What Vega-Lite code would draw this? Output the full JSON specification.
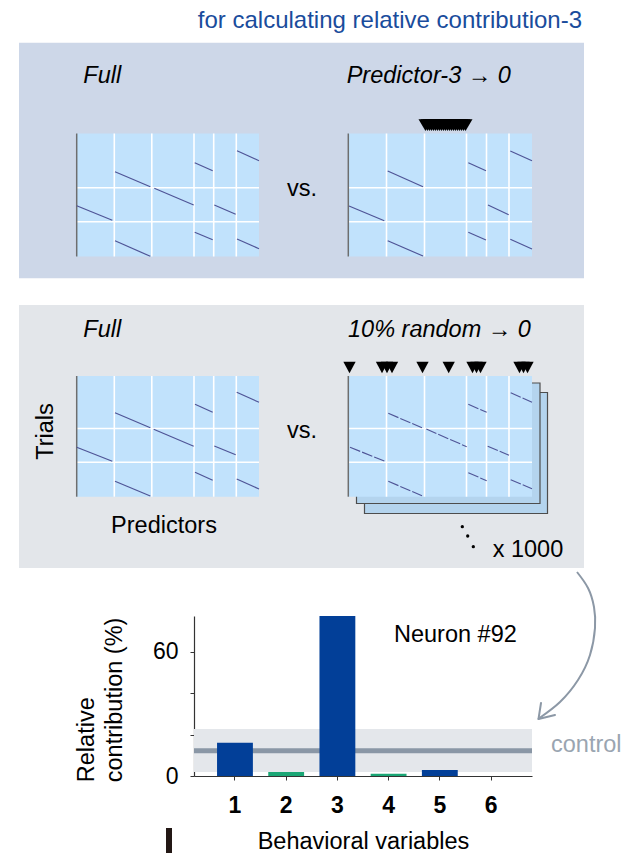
{
  "$schema": "https://vega.github.io/schema/vega-lite/v6.json",
  "width": 338,
  "height": 160,
  "autosize": {"type": "none"},
  "padding": {"left": 194, "top": 616, "right": 93, "bottom": 77},
  "background": "white",
  "config": {"view": {"stroke": null}, "font": "Liberation Sans"},
  "datasets": {
    "panels": [
      {"panel": "predictor", "x0": 19, "x1": 584, "y0": 42.7, "y1": 278.3},
      {"panel": "random", "x0": 19, "x1": 584, "y0": 305, "y1": 568}
    ],
    "sheets": [
      {"copy": 3, "x0": 364.5, "x1": 547.5, "y0": 392.5, "y1": 513.5},
      {"copy": 2, "x0": 356.5, "x1": 540, "y0": 383, "y1": 503.5}
    ],
    "matrices": [
      {"m": "A-full", "x0": 76.7, "x1": 259, "y0": 133.5, "y1": 256.5},
      {"m": "A-drop3", "x0": 348.3, "x1": 532, "y0": 133.5, "y1": 256.5},
      {"m": "B-full", "x0": 76.7, "x1": 259, "y0": 376, "y1": 496.7},
      {"m": "B-random", "x0": 348.3, "x1": 532, "y0": 376, "y1": 496.7}
    ],
    "grid": [
      {"x": 114.3, "y": 133.5, "x2": 114.3, "y2": 256.5},
      {"x": 151.8, "y": 133.5, "x2": 151.8, "y2": 256.5},
      {"x": 194, "y": 133.5, "x2": 194, "y2": 256.5},
      {"x": 213.7, "y": 133.5, "x2": 213.7, "y2": 256.5},
      {"x": 236.3, "y": 133.5, "x2": 236.3, "y2": 256.5},
      {"x": 76.7, "y": 187.7, "x2": 259, "y2": 187.7},
      {"x": 76.7, "y": 221.7, "x2": 259, "y2": 221.7},
      {"x": 386.5, "y": 133.5, "x2": 386.5, "y2": 256.5},
      {"x": 424.5, "y": 133.5, "x2": 424.5, "y2": 256.5},
      {"x": 466.5, "y": 133.5, "x2": 466.5, "y2": 256.5},
      {"x": 486.5, "y": 133.5, "x2": 486.5, "y2": 256.5},
      {"x": 509, "y": 133.5, "x2": 509, "y2": 256.5},
      {"x": 348.3, "y": 187.7, "x2": 532, "y2": 187.7},
      {"x": 348.3, "y": 221.7, "x2": 532, "y2": 221.7},
      {"x": 114.3, "y": 376, "x2": 114.3, "y2": 496.7},
      {"x": 151.8, "y": 376, "x2": 151.8, "y2": 496.7},
      {"x": 194, "y": 376, "x2": 194, "y2": 496.7},
      {"x": 213.7, "y": 376, "x2": 213.7, "y2": 496.7},
      {"x": 236.3, "y": 376, "x2": 236.3, "y2": 496.7},
      {"x": 76.7, "y": 428.5, "x2": 259, "y2": 428.5},
      {"x": 76.7, "y": 462.3, "x2": 259, "y2": 462.3},
      {"x": 386.5, "y": 376, "x2": 386.5, "y2": 496.7},
      {"x": 424.5, "y": 376, "x2": 424.5, "y2": 496.7},
      {"x": 466.5, "y": 376, "x2": 466.5, "y2": 496.7},
      {"x": 486.5, "y": 376, "x2": 486.5, "y2": 496.7},
      {"x": 509, "y": 376, "x2": 509, "y2": 496.7},
      {"x": 348.3, "y": 428.5, "x2": 532, "y2": 428.5},
      {"x": 348.3, "y": 462.3, "x2": 532, "y2": 462.3}
    ],
    "edges": [
      {"x": 76.7, "y": 133.5, "x2": 76.7, "y2": 256.5},
      {"x": 348.3, "y": 133.5, "x2": 348.3, "y2": 256.5},
      {"x": 76.7, "y": 376, "x2": 76.7, "y2": 496.7},
      {"x": 348.3, "y": 376, "x2": 348.3, "y2": 496.7}
    ],
    "kernels": [
      {"m": "A-full", "x": 76.7, "y": 205.7, "x2": 112.3, "y2": 220.3},
      {"m": "A-full", "x": 115, "y": 171.7, "x2": 150.3, "y2": 186.7},
      {"m": "A-full", "x": 115, "y": 240.7, "x2": 150.3, "y2": 256.3},
      {"m": "A-full", "x": 154.3, "y": 188.3, "x2": 193.7, "y2": 205},
      {"m": "A-full", "x": 194.7, "y": 162.7, "x2": 212.7, "y2": 170.7},
      {"m": "A-full", "x": 194.7, "y": 232.3, "x2": 212.7, "y2": 239.7},
      {"m": "A-full", "x": 214.3, "y": 205, "x2": 235.7, "y2": 214.3},
      {"m": "A-full", "x": 237, "y": 150.7, "x2": 259, "y2": 160.7},
      {"m": "A-full", "x": 237, "y": 239, "x2": 259, "y2": 248.7},
      {"m": "A-drop3", "x": 349, "y": 206, "x2": 384.3, "y2": 220.7},
      {"m": "A-drop3", "x": 387.7, "y": 171, "x2": 423, "y2": 186.7},
      {"m": "A-drop3", "x": 387.7, "y": 240.7, "x2": 423, "y2": 256},
      {"m": "A-drop3", "x": 468.3, "y": 162.7, "x2": 486, "y2": 170.7},
      {"m": "A-drop3", "x": 468.3, "y": 232.3, "x2": 486, "y2": 240},
      {"m": "A-drop3", "x": 488, "y": 205, "x2": 508.7, "y2": 214.7},
      {"m": "A-drop3", "x": 510.3, "y": 151, "x2": 532, "y2": 160.7},
      {"m": "A-drop3", "x": 510.3, "y": 239.3, "x2": 532, "y2": 249},
      {"m": "B-full", "x": 76.7, "y": 447.3, "x2": 112.3, "y2": 461.3},
      {"m": "B-full", "x": 115, "y": 412.7, "x2": 150.3, "y2": 427.7},
      {"m": "B-full", "x": 115, "y": 481.3, "x2": 150.3, "y2": 496},
      {"m": "B-full", "x": 153.7, "y": 429.3, "x2": 193.7, "y2": 446.3},
      {"m": "B-full", "x": 195, "y": 404.3, "x2": 212.7, "y2": 412.3},
      {"m": "B-full", "x": 195, "y": 472.3, "x2": 212.7, "y2": 480.3},
      {"m": "B-full", "x": 214.3, "y": 446, "x2": 235.7, "y2": 454.7},
      {"m": "B-full", "x": 236.7, "y": 392.3, "x2": 259, "y2": 402.3},
      {"m": "B-full", "x": 236.7, "y": 479, "x2": 259, "y2": 489},
      {"m": "B-random", "x": 350, "y": 447.3, "x2": 385, "y2": 461.3},
      {"m": "B-random", "x": 388.3, "y": 413.3, "x2": 422, "y2": 427.7},
      {"m": "B-random", "x": 388.3, "y": 481.3, "x2": 422, "y2": 495.7},
      {"m": "B-random", "x": 426.3, "y": 429, "x2": 466.7, "y2": 446.7},
      {"m": "B-random", "x": 468.3, "y": 404.3, "x2": 486.7, "y2": 412.3},
      {"m": "B-random", "x": 468.3, "y": 472.7, "x2": 486.7, "y2": 480.7},
      {"m": "B-random", "x": 487.7, "y": 446.3, "x2": 509, "y2": 455.3},
      {"m": "B-random", "x": 510.7, "y": 392.7, "x2": 532, "y2": 402.3},
      {"m": "B-random", "x": 510.7, "y": 479.7, "x2": 532, "y2": 488.7}
    ],
    "dropped": [
      {"m": "A-drop3", "x": 425.5, "y": 125.2}, {"m": "A-drop3", "x": 427.5, "y": 125.2},
      {"m": "A-drop3", "x": 429.5, "y": 125.2}, {"m": "A-drop3", "x": 431.5, "y": 125.2},
      {"m": "A-drop3", "x": 433.5, "y": 125.2}, {"m": "A-drop3", "x": 435.5, "y": 125.2},
      {"m": "A-drop3", "x": 437.5, "y": 125.2}, {"m": "A-drop3", "x": 439.5, "y": 125.2},
      {"m": "A-drop3", "x": 441.5, "y": 125.2}, {"m": "A-drop3", "x": 443.5, "y": 125.2},
      {"m": "A-drop3", "x": 445.5, "y": 125.2}, {"m": "A-drop3", "x": 447.5, "y": 125.2},
      {"m": "A-drop3", "x": 449.5, "y": 125.2}, {"m": "A-drop3", "x": 451.5, "y": 125.2},
      {"m": "A-drop3", "x": 453.5, "y": 125.2}, {"m": "A-drop3", "x": 455.5, "y": 125.2},
      {"m": "A-drop3", "x": 457.5, "y": 125.2}, {"m": "A-drop3", "x": 459.5, "y": 125.2},
      {"m": "A-drop3", "x": 461.5, "y": 125.2}, {"m": "A-drop3", "x": 463.5, "y": 125.2},
      {"m": "A-drop3", "x": 465.5, "y": 125.2},
      {"m": "B-random", "x": 349.5, "y": 367.5}, {"m": "B-random", "x": 382, "y": 367.5},
      {"m": "B-random", "x": 387, "y": 367.5}, {"m": "B-random", "x": 392, "y": 367.5},
      {"m": "B-random", "x": 422.5, "y": 367.5}, {"m": "B-random", "x": 448.7, "y": 367.5},
      {"m": "B-random", "x": 472.5, "y": 367.5}, {"m": "B-random", "x": 476.5, "y": 367.5},
      {"m": "B-random", "x": 480.5, "y": 367.5}, {"m": "B-random", "x": 519.5, "y": 367.5},
      {"m": "B-random", "x": 523.5, "y": 367.5}, {"m": "B-random", "x": 527.5, "y": 367.5}
    ],
    "ellipsis": [
      {"x": 462.3, "y": 526.7}, {"x": 467.7, "y": 536}, {"x": 473.3, "y": 546.7}
    ],
    "arrow": [
      {"k": 1, "x": 577, "y": 572}, {"k": 2, "x": 588, "y": 588},
      {"k": 3, "x": 594, "y": 607}, {"k": 4, "x": 595, "y": 628},
      {"k": 5, "x": 590, "y": 655}, {"k": 6, "x": 578, "y": 680},
      {"k": 7, "x": 560, "y": 702}, {"k": 8, "x": 539.5, "y": 718}
    ],
    "arrowhead": [
      {"x": 538.5, "y": 719, "x2": 541, "y2": 703},
      {"x": 538.5, "y": 719, "x2": 555, "y2": 715}
    ],
    "marker": [
      {"x": 169, "y": 828, "x2": 169, "y2": 853}
    ],
    "heading": [
      {"text": "for calculating relative contribution-3", "x": 582, "y": 27.5}
    ],
    "conditions": [
      {"text": "Full", "x": 83.3, "y": 83},
      {"text": "Predictor-3 → 0", "x": 346.7, "y": 83.3},
      {"text": "Full", "x": 83.3, "y": 336.7},
      {"text": "10% random → 0", "x": 348, "y": 336.7}
    ],
    "notes": [
      {"text": "vs.", "x": 287, "y": 195.5},
      {"text": "vs.", "x": 287, "y": 438},
      {"text": "x 1000", "x": 492.7, "y": 556.7},
      {"text": "Neuron #92", "x": 394, "y": 641.7}
    ],
    "controlNote": [
      {"text": "control", "x": 551, "y": 752}
    ],
    "xName": [
      {"text": "Predictors", "x": 164, "y": 532.7}
    ],
    "yName": [
      {"text": "Trials", "x": 53.3, "y": 431.5}
    ],
    "contribution": [
      {"variable": "1", "value": 16.1, "kind": "I"},
      {"variable": "2", "value": 1.9, "kind": "II"},
      {"variable": "3", "value": 77.4, "kind": "I"},
      {"variable": "4", "value": 1.1, "kind": "II"},
      {"variable": "5", "value": 2.9, "kind": "I"},
      {"variable": "6", "value": 0, "kind": "I"}
    ],
    "control": [
      {"lo": 1.9, "hi": 22.7, "mean": 12.2}
    ]
  },
  "layer": [
    {
      "layer": [
        {
          "data": {"name": "panels"},
          "mark": {"type": "rect"},
          "encoding": {
            "x": {"field": "x0", "type": "quantitative", "scale": {"domain": [194, 532], "nice": false, "zero": false}, "axis": null},
            "x2": {"field": "x1"},
            "y": {"field": "y0", "type": "quantitative", "scale": {"domain": [616, 776], "nice": false, "zero": false, "reverse": true}, "axis": null},
            "y2": {"field": "y1"},
            "color": {"field": "panel", "type": "nominal", "scale": {"domain": ["predictor", "random"], "range": ["#cdd7e8", "#e3e6ea"]}, "legend": null}
          }
        },
        {
          "data": {"name": "sheets"},
          "mark": {"type": "rect", "fill": "#b4d4ee", "stroke": "#4d4d4d", "strokeWidth": 1.2},
          "encoding": {
            "x": {"field": "x0", "type": "quantitative", "scale": {"domain": [194, 532], "nice": false, "zero": false}, "axis": null},
            "x2": {"field": "x1"},
            "y": {"field": "y0", "type": "quantitative", "scale": {"domain": [616, 776], "nice": false, "zero": false, "reverse": true}, "axis": null},
            "y2": {"field": "y1"}
          }
        },
        {
          "data": {"name": "matrices"},
          "mark": {"type": "rect", "fill": "#c1e2fc"},
          "encoding": {
            "x": {"field": "x0", "type": "quantitative", "scale": {"domain": [194, 532], "nice": false, "zero": false}, "axis": null},
            "x2": {"field": "x1"},
            "y": {"field": "y0", "type": "quantitative", "scale": {"domain": [616, 776], "nice": false, "zero": false, "reverse": true}, "axis": null},
            "y2": {"field": "y1"}
          }
        },
        {
          "data": {"name": "grid"},
          "mark": {"type": "rule", "color": "white", "strokeWidth": 1.6},
          "encoding": {
            "x": {"field": "x", "type": "quantitative", "scale": {"domain": [194, 532], "nice": false, "zero": false}, "axis": null},
            "x2": {"field": "x2"},
            "y": {"field": "y", "type": "quantitative", "scale": {"domain": [616, 776], "nice": false, "zero": false, "reverse": true}, "axis": null},
            "y2": {"field": "y2"}
          }
        },
        {
          "data": {"name": "edges"},
          "mark": {"type": "rule", "color": "#6e6e6e", "strokeWidth": 1.5},
          "encoding": {
            "x": {"field": "x", "type": "quantitative", "scale": {"domain": [194, 532], "nice": false, "zero": false}, "axis": null},
            "x2": {"field": "x2"},
            "y": {"field": "y", "type": "quantitative", "scale": {"domain": [616, 776], "nice": false, "zero": false, "reverse": true}, "axis": null},
            "y2": {"field": "y2"}
          }
        },
        {
          "data": {"name": "kernels"},
          "transform": [{"filter": "datum.m != 'B-random'"}],
          "mark": {"type": "rule", "color": "#4f5496", "strokeWidth": 1.2},
          "encoding": {
            "x": {"field": "x", "type": "quantitative", "scale": {"domain": [194, 532], "nice": false, "zero": false}, "axis": null},
            "x2": {"field": "x2"},
            "y": {"field": "y", "type": "quantitative", "scale": {"domain": [616, 776], "nice": false, "zero": false, "reverse": true}, "axis": null},
            "y2": {"field": "y2"}
          }
        },
        {
          "data": {"name": "kernels"},
          "transform": [{"filter": "datum.m == 'B-random'"}],
          "mark": {"type": "rule", "color": "#4f5496", "strokeWidth": 1.1, "strokeDash": [11, 2]},
          "encoding": {
            "x": {"field": "x", "type": "quantitative", "scale": {"domain": [194, 532], "nice": false, "zero": false}, "axis": null},
            "x2": {"field": "x2"},
            "y": {"field": "y", "type": "quantitative", "scale": {"domain": [616, 776], "nice": false, "zero": false, "reverse": true}, "axis": null},
            "y2": {"field": "y2"}
          }
        },
        {
          "data": {"name": "dropped"},
          "transform": [{"filter": "datum.m == 'A-drop3'"}],
          "mark": {"type": "point", "shape": "M-1,-0.84L1,-0.84L0,0.84Z", "filled": true, "color": "black", "opacity": 1, "size": 196},
          "encoding": {
            "x": {"field": "x", "type": "quantitative", "scale": {"domain": [194, 532], "nice": false, "zero": false}, "axis": null},
            "y": {"field": "y", "type": "quantitative", "scale": {"domain": [616, 776], "nice": false, "zero": false, "reverse": true}, "axis": null}
          }
        },
        {
          "data": {"name": "dropped"},
          "transform": [{"filter": "datum.m == 'B-random'"}],
          "mark": {"type": "point", "shape": "M-1,-0.94L1,-0.94L0,0.94Z", "filled": true, "color": "black", "opacity": 1, "size": 151},
          "encoding": {
            "x": {"field": "x", "type": "quantitative", "scale": {"domain": [194, 532], "nice": false, "zero": false}, "axis": null},
            "y": {"field": "y", "type": "quantitative", "scale": {"domain": [616, 776], "nice": false, "zero": false, "reverse": true}, "axis": null}
          }
        },
        {
          "data": {"name": "ellipsis"},
          "mark": {"type": "point", "shape": "circle", "filled": true, "color": "black", "opacity": 1, "size": 11},
          "encoding": {
            "x": {"field": "x", "type": "quantitative", "scale": {"domain": [194, 532], "nice": false, "zero": false}, "axis": null},
            "y": {"field": "y", "type": "quantitative", "scale": {"domain": [616, 776], "nice": false, "zero": false, "reverse": true}, "axis": null}
          }
        },
        {
          "data": {"name": "arrow"},
          "mark": {"type": "line", "color": "#8c98a6", "strokeWidth": 2, "interpolate": "natural"},
          "encoding": {
            "x": {"field": "x", "type": "quantitative", "scale": {"domain": [194, 532], "nice": false, "zero": false}, "axis": null},
            "y": {"field": "y", "type": "quantitative", "scale": {"domain": [616, 776], "nice": false, "zero": false, "reverse": true}, "axis": null},
            "order": {"field": "k", "type": "quantitative"}
          }
        },
        {
          "data": {"name": "arrowhead"},
          "mark": {"type": "rule", "color": "#8c98a6", "strokeWidth": 2, "strokeCap": "round"},
          "encoding": {
            "x": {"field": "x", "type": "quantitative", "scale": {"domain": [194, 532], "nice": false, "zero": false}, "axis": null},
            "x2": {"field": "x2"},
            "y": {"field": "y", "type": "quantitative", "scale": {"domain": [616, 776], "nice": false, "zero": false, "reverse": true}, "axis": null},
            "y2": {"field": "y2"}
          }
        },
        {
          "data": {"name": "marker"},
          "mark": {"type": "rule", "color": "#231815", "strokeWidth": 6},
          "encoding": {
            "x": {"field": "x", "type": "quantitative", "scale": {"domain": [194, 532], "nice": false, "zero": false}, "axis": null},
            "x2": {"field": "x2"},
            "y": {"field": "y", "type": "quantitative", "scale": {"domain": [616, 776], "nice": false, "zero": false, "reverse": true}, "axis": null},
            "y2": {"field": "y2"}
          }
        },
        {
          "data": {"name": "heading"},
          "mark": {"type": "text", "font": "Liberation Sans", "fontSize": 24, "color": "#1a4c9c", "align": "right", "baseline": "alphabetic"},
          "encoding": {
            "x": {"field": "x", "type": "quantitative", "scale": {"domain": [194, 532], "nice": false, "zero": false}, "axis": null},
            "y": {"field": "y", "type": "quantitative", "scale": {"domain": [616, 776], "nice": false, "zero": false, "reverse": true}, "axis": null},
            "text": {"field": "text"}
          }
        },
        {
          "data": {"name": "conditions"},
          "mark": {"type": "text", "font": "Liberation Sans", "fontSize": 23.5, "fontStyle": "italic", "color": "black", "align": "left", "baseline": "alphabetic"},
          "encoding": {
            "x": {"field": "x", "type": "quantitative", "scale": {"domain": [194, 532], "nice": false, "zero": false}, "axis": null},
            "y": {"field": "y", "type": "quantitative", "scale": {"domain": [616, 776], "nice": false, "zero": false, "reverse": true}, "axis": null},
            "text": {"field": "text"}
          }
        },
        {
          "data": {"name": "notes"},
          "mark": {"type": "text", "font": "Liberation Sans", "fontSize": 23.5, "color": "black", "align": "left", "baseline": "alphabetic"},
          "encoding": {
            "x": {"field": "x", "type": "quantitative", "scale": {"domain": [194, 532], "nice": false, "zero": false}, "axis": null},
            "y": {"field": "y", "type": "quantitative", "scale": {"domain": [616, 776], "nice": false, "zero": false, "reverse": true}, "axis": null},
            "text": {"field": "text"}
          }
        },
        {
          "data": {"name": "controlNote"},
          "mark": {"type": "text", "font": "Liberation Sans", "fontSize": 23.5, "color": "#9aa5b1", "align": "left", "baseline": "alphabetic"},
          "encoding": {
            "x": {"field": "x", "type": "quantitative", "scale": {"domain": [194, 532], "nice": false, "zero": false}, "axis": null},
            "y": {"field": "y", "type": "quantitative", "scale": {"domain": [616, 776], "nice": false, "zero": false, "reverse": true}, "axis": null},
            "text": {"field": "text"}
          }
        },
        {
          "data": {"name": "xName"},
          "mark": {"type": "text", "font": "Liberation Sans", "fontSize": 23.5, "color": "black", "align": "center", "baseline": "alphabetic"},
          "encoding": {
            "x": {"field": "x", "type": "quantitative", "scale": {"domain": [194, 532], "nice": false, "zero": false}, "axis": null},
            "y": {"field": "y", "type": "quantitative", "scale": {"domain": [616, 776], "nice": false, "zero": false, "reverse": true}, "axis": null},
            "text": {"field": "text"}
          }
        },
        {
          "data": {"name": "yName"},
          "mark": {"type": "text", "font": "Liberation Sans", "fontSize": 23.5, "color": "black", "align": "center", "baseline": "alphabetic", "angle": 270},
          "encoding": {
            "x": {"field": "x", "type": "quantitative", "scale": {"domain": [194, 532], "nice": false, "zero": false}, "axis": null},
            "y": {"field": "y", "type": "quantitative", "scale": {"domain": [616, 776], "nice": false, "zero": false, "reverse": true}, "axis": null},
            "text": {"field": "text"}
          }
        }
      ]
    },
    {
      "layer": [
        {
          "data": {"name": "control"},
          "mark": {"type": "rect", "color": "#e4e7eb"},
          "encoding": {
            "y": {"field": "lo", "type": "quantitative", "scale": {"domain": [0, 77.4], "nice": false}},
            "y2": {"field": "hi"}
          }
        },
        {
          "data": {"name": "control"},
          "mark": {"type": "rule", "color": "#8a97a6", "strokeWidth": 5},
          "encoding": {
            "y": {"field": "mean", "type": "quantitative"}
          }
        },
        {
          "data": {"name": "contribution"},
          "mark": {"type": "bar"},
          "encoding": {
            "x": {
              "field": "variable", "type": "ordinal",
              "scale": {"paddingInner": 0.3, "paddingOuter": 0.45},
              "axis": {
                "title": "Behavioral variables", "titleFont": "Liberation Sans", "titleFontSize": 23.5, "titleFontWeight": "normal", "titleColor": "black",
                "titleBaseline": "alphabetic", "titleY": 72,
                "labelFont": "Liberation Sans", "labelFontSize": 23, "labelFontWeight": "bold", "labelColor": "black", "labelAngle": 0, "labelPadding": 14,
                "tickSize": 4, "tickColor": "#333333", "domainColor": "#333333", "domainWidth": 1.2, "grid": false
              }
            },
            "y": {
              "field": "value", "type": "quantitative",
              "scale": {"domain": [0, 77.4], "nice": false},
              "axis": {
                "title": ["Relative", "contribution (%)"], "titleFont": "Liberation Sans", "titleFontSize": 23.5, "titleFontWeight": "normal", "titleColor": "black",
                "titleAngle": 270, "titleAlign": "left", "titleBaseline": "alphabetic", "titleX": -100.7, "titleY": 165.7, "titleLineHeight": 28.4,
                "values": [0, 20, 40, 60], "labelExpr": "datum.value == 0 || datum.value == 60 ? datum.label : ''",
                "labelFont": "Liberation Sans", "labelFontSize": 23, "labelColor": "black", "labelPadding": 12,
                "tickSize": 4, "tickColor": "#333333", "domainColor": "#333333", "domainWidth": 1.2, "grid": false
              }
            },
            "color": {"field": "kind", "type": "nominal", "scale": {"domain": ["I", "II"], "range": ["#023f98", "#1aa675"]}, "legend": null}
          }
        }
      ]
    }
  ],
  "resolve": {"scale": {"x": "independent", "y": "independent", "color": "independent"}}
}
